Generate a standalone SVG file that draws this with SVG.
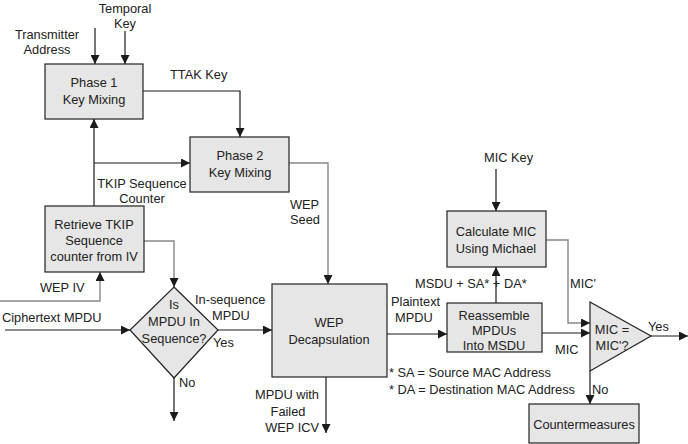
<svg xmlns="http://www.w3.org/2000/svg" width="688" height="444" viewBox="0 0 688 444">
<defs>
<marker id="ah" viewBox="0 0 10 10" refX="10" refY="5" markerWidth="9" markerHeight="9" markerUnits="userSpaceOnUse" orient="auto">
<path d="M0,0 L10,5 L0,10 Z" fill="#1a1a1a"/>
</marker>
</defs>
<style>
text{font-family:"Liberation Sans",Arial,sans-serif;font-size:12.8px;fill:#222}
.c{text-anchor:middle}
.r{text-anchor:end}
.box{fill:#e6e6e6;stroke:#222;stroke-width:1.2}
.ln{fill:none;stroke:#1a1a1a;stroke-width:1.2}
.gl{fill:none;stroke:#888;stroke-width:1.4}
</style>
<rect width="688" height="444" fill="#fff"/>

<g id="connectors">
<path class="ln" d="M95,28 V64" marker-end="url(#ah)"/>
<path class="ln" d="M125,31 V64" marker-end="url(#ah)"/>
<path class="ln" d="M143,91 H240 V137" marker-end="url(#ah)"/>
<path class="ln" d="M94,207 V119" marker-end="url(#ah)"/>
<path class="ln" d="M94,163 H190" marker-end="url(#ah)"/>
<path class="gl" d="M289,163 H328 V284" marker-end="url(#ah)"/>
<path class="gl" d="M144,241 H174 V287" marker-end="url(#ah)"/>
<path class="gl" d="M0,301 H100 V272" marker-end="url(#ah)"/>
<path class="ln" d="M5,330 H130" marker-end="url(#ah)"/>
<path class="ln" d="M174,378 V421" marker-end="url(#ah)"/>
<path class="ln" d="M218,330 H272" marker-end="url(#ah)"/>
<path class="ln" d="M326,377 V433" marker-end="url(#ah)"/>
<path class="ln" d="M387,334 H447" marker-end="url(#ah)"/>
<path class="ln" d="M496,303 V267" marker-end="url(#ah)"/>
<path class="ln" d="M496,169 V211" marker-end="url(#ah)"/>
<path class="gl" d="M546,240 H568 V323 H590" marker-end="url(#ah)"/>
<path class="ln" d="M542,333 H590" marker-end="url(#ah)"/>
<path class="ln" d="M651,336 H688" marker-end="url(#ah)"/>
<path class="ln" d="M590,371 V404" marker-end="url(#ah)"/>
</g>

<g id="phase1">
<rect class="box" x="45" y="64" width="98" height="55"/>
<text class="c" x="94" y="87">Phase 1</text>
<text class="c" x="94" y="104">Key Mixing</text>
</g>
<g id="phase2">
<rect class="box" x="190" y="137" width="99" height="55"/>
<text class="c" x="240" y="160">Phase 2</text>
<text class="c" x="240" y="177">Key Mixing</text>
</g>
<g id="retrieve">
<rect class="box" x="45" y="206" width="99" height="66"/>
<text class="c" x="94" y="229">Retrieve TKIP</text>
<text class="c" x="94" y="245">Sequence</text>
<text class="c" x="94" y="261">counter from IV</text>
</g>
<g id="decision">
<polygon class="box" points="174,287 218,330 174,378 130,330"/>
<text class="c" x="174" y="309">Is</text>
<text class="c" x="174" y="326">MPDU In</text>
<text class="c" x="174" y="343">Sequence?</text>
</g>
<g id="wepdecap">
<rect class="box" x="272" y="284" width="115" height="93"/>
<text class="c" x="329" y="327">WEP</text>
<text class="c" x="329" y="344">Decapsulation</text>
</g>
<g id="reassemble">
<rect class="box" x="447" y="303" width="95" height="49"/>
<text class="c" x="494" y="320">Reassemble</text>
<text class="c" x="494" y="335">MPDUs</text>
<text class="c" x="494" y="350">Into MSDU</text>
</g>
<g id="calcmic">
<rect class="box" x="447" y="211" width="99" height="56"/>
<text class="c" x="496" y="236">Calculate MIC</text>
<text class="c" x="496" y="253">Using Michael</text>
</g>
<g id="compare">
<polygon class="box" points="590,302 651,336 590,371"/>
<text class="c" x="612" y="334">MIC =</text>
<text class="c" x="612" y="350">MIC'?</text>
</g>
<g id="countermeasures">
<rect class="box" x="529" y="404" width="110" height="39"/>
<text class="c" x="584" y="429">Countermeasures</text>
</g>

<g id="labels">
<text class="c" x="125" y="13">Temporal</text>
<text class="c" x="125" y="28">Key</text>
<text class="c" x="47" y="39">Transmitter</text>
<text class="c" x="47" y="54">Address</text>
<text x="170" y="79">TTAK Key</text>
<text class="c" x="142" y="188">TKIP Sequence</text>
<text class="c" x="142" y="203">Counter</text>
<text x="290" y="209">WEP</text>
<text x="290" y="224">Seed</text>
<text x="40" y="292">WEP IV</text>
<text x="2" y="322">Ciphertext MPDU</text>
<text x="195" y="304">In-sequence</text>
<text x="212" y="320">MPDU</text>
<text x="213" y="347">Yes</text>
<text x="179" y="387">No</text>
<text class="r" x="319" y="399">MPDU with</text>
<text class="c" x="288" y="416">Failed</text>
<text class="r" x="319" y="432">WEP ICV</text>
<text x="391" y="306">Plaintext</text>
<text x="395" y="322">MPDU</text>
<text x="415" y="288">MSDU + SA* + DA*</text>
<text x="484" y="162">MIC Key</text>
<text x="570" y="288">MIC'</text>
<text x="555" y="354">MIC</text>
<text x="648" y="331">Yes</text>
<text x="592" y="394">No</text>
<text x="389" y="377">* SA = Source MAC Address</text>
<text x="389" y="394">* DA = Destination MAC Address</text>
</g>
</svg>
